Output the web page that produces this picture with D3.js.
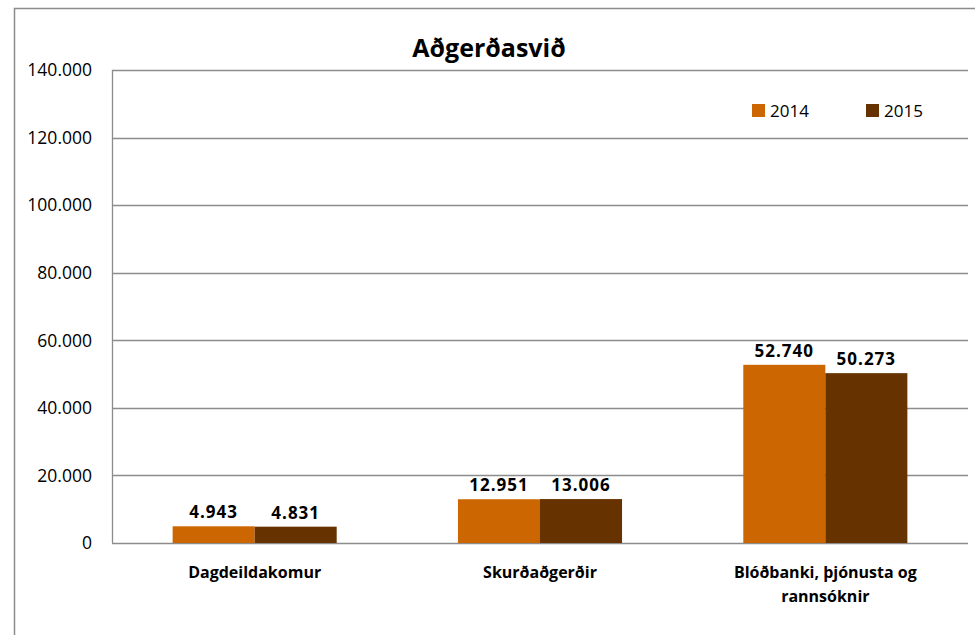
<!DOCTYPE html>
<html>
<head>
<meta charset="utf-8">
<script src="https://cdn.jsdelivr.net/npm/d3@7"></script>
<style>
  body { margin: 0; background: #fff; }
  text { font-family: "Open Sans", "Noto Sans", sans-serif; fill: #000; }
</style>
</head>
<body>
<div id="chart"></div>
<script>
const categories = [["Dagdeildakomur"], ["Skurðaðgerðir"], ["Blóðbanki, þjónusta og", "rannsóknir"]];
const years = ["2014", "2015"];
const values2014 = [4943, 12951, 52740];
const values2015 = [4831, 13006, 50273];
const yTicks = [0, 20000, 40000, 60000, 80000, 100000, 120000, 140000];
const colors = ["#CC6600", "#663300"];

const W = 980, H = 635;
const margin = { left: 112, right: 12, top: 70, bottom: 92 };
const width = W - margin.left - margin.right;
const height = H - margin.top - margin.bottom;

const svg = d3.select("#chart").append("svg").attr("width", W).attr("height", H);

// outer chart border (right/bottom cut off)
svg.append("path")
  .attr("d", "M14.5," + H + " V8.5 H975")
  .attr("fill", "none").attr("stroke", "#8c8c8c").attr("stroke-width", 1.5);

const g = svg.append("g").attr("transform", "translate(" + margin.left + "," + margin.top + ")");

const nf = d3.formatLocale({ decimal: ",", thousands: ".", grouping: [3], currency: ["", ""] }).format(",d");

const x = d3.scaleBand().domain(d3.range(categories.length)).range([0, width]);
const xs = d3.scaleBand().domain(years).range([0, x.bandwidth() * 0.575]);
const y = d3.scaleLinear().domain([0, 140000]).range([height, 0]);

// gridlines
g.selectAll("line.grid").data(yTicks).enter().append("line")
  .attr("x1", 0).attr("x2", width)
  .attr("y1", d => Math.round(y(d)) + 0.5).attr("y2", d => Math.round(y(d)) + 0.5)
  .attr("stroke", "#8c8c8c").attr("stroke-width", 1.3);

// y axis line
g.append("line").attr("x1", 0.5).attr("x2", 0.5).attr("y1", 0).attr("y2", height)
  .attr("stroke", "#8c8c8c").attr("stroke-width", 1.3);

// y tick labels
g.selectAll("text.ytick").data(yTicks).enter().append("text")
  .attr("class", "ytick")
  .attr("x", -20).attr("y", d => y(d))
  .attr("dy", "0.36em").attr("text-anchor", "end")
  .style("font-size", "17.5px")
  .text(d => nf(d));

// bars
const series = [values2014, values2015];
const offset = (x.bandwidth() - xs.range()[1]) / 2;
series.forEach((vals, si) => {
  g.selectAll("rect.s" + si).data(vals).enter().append("rect")
    .attr("x", (d, i) => x(i) + offset + xs(years[si]))
    .attr("width", xs.bandwidth())
    .attr("y", d => y(d))
    .attr("height", d => height - y(d))
    .attr("fill", colors[si]);
  g.selectAll("text.v" + si).data(vals).enter().append("text")
    .attr("x", (d, i) => x(i) + offset + xs(years[si]) + xs.bandwidth() / 2)
    .attr("y", d => y(d) - 8)
    .attr("text-anchor", "middle")
    .style("font-size", "17px").style("font-weight", "bold")
    .style("letter-spacing", "1px")
    .text(d => nf(d));
});

// category labels
categories.forEach((lines, i) => {
  const t = g.append("text")
    .attr("x", x(i) + x.bandwidth() / 2)
    .attr("y", height + 35)
    .attr("text-anchor", "middle")
    .style("font-size", "16px").style("font-weight", "bold");
  lines.forEach((l, j) => {
    t.append("tspan").attr("x", x(i) + x.bandwidth() / 2).attr("dy", j === 0 ? 0 : 24).text(l);
  });
});

// title
svg.append("text")
  .attr("x", 489).attr("y", 57)
  .attr("text-anchor", "middle")
  .style("font-size", "25px").style("font-weight", "bold")
  .text("Aðgerðasvið");

// legend
const legend = svg.append("g").attr("transform", "translate(752,104)");
years.forEach((yr, i) => {
  const lg = legend.append("g").attr("transform", "translate(" + (i * 114) + ",0)");
  lg.append("rect").attr("width", 13).attr("height", 13).attr("fill", colors[i]);
  lg.append("text").attr("x", 18).attr("y", 7).attr("dy", "0.36em")
    .style("font-size", "17px").text(yr);
});
</script>
</body>
</html>
